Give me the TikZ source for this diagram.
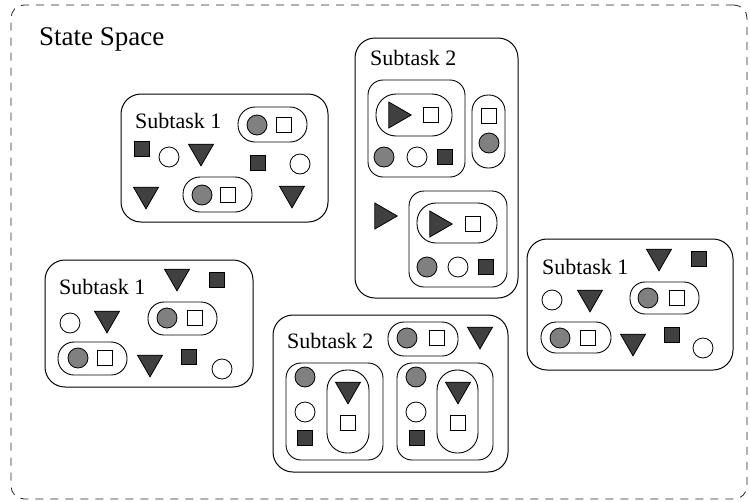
\documentclass[tikz,border=0pt]{standalone}
\usepackage{fontspec}
\setmainfont{Liberation Serif}
\usetikzlibrary{shapes.geometric}
\definecolor{darkfill}{gray}{0.25}
\definecolor{midfill}{gray}{0.5}
\tikzset{
	shp/.style={draw, line width=0.8pt, inner sep=0pt, outer sep=0pt},
	gcirc/.style={shp, circle, fill=midfill, minimum size=20pt},
	wcirc/.style={shp, circle, fill=white, minimum size=20pt},
	dsq/.style={shp, rectangle, fill=darkfill, minimum size=15pt},
	wsq/.style={shp, rectangle, fill=white, minimum size=15pt},
	dtri/.style={shp, regular polygon, regular polygon sides=3, shape border rotate=180,
		fill=darkfill, minimum size=28.9pt, yshift=3.6pt},
	rtri/.style={shp, regular polygon, regular polygon sides=3, shape border rotate=-90,
		fill=darkfill, minimum size=30pt, xshift=-3.75pt},
	pill/.style={draw, line width=0.9pt, rounded corners=#1, inner sep=0pt},
	subbox/.style={draw, line width=1pt, rounded corners=20pt, inner sep=0pt},
	innerbox/.style={draw, line width=0.9pt, rounded corners=15pt, inner sep=0pt},
	tasklabel/.style={anchor=base west, inner sep=0pt, font=\fontsize{22}{26}\selectfont}
}

\begin{document}
\begin{tikzpicture}[x=1pt,y=-1pt]
		\useasboundingbox (0,0) rectangle (750,501);
		% state space
		\node[draw, dashed, dash pattern=on 8pt off 7pt, line width=0.8pt, black!85,
			rounded corners=13pt, minimum width=736pt, minimum height=494pt] (space) at (379,252) {};
		\node[anchor=base west, inner sep=0pt, font=\fontsize{27}{32}\selectfont] (spacelbl) at (39,45) {State Space};
		%
		% subtask 1, top left
		\node[subbox, minimum width=207pt, minimum height=128pt] (tA) at (224.5,158) {};
		\node[tasklabel] (tAlbl) at (135,128) {Subtask 1};
		\node[pill=17pt, minimum width=69pt, minimum height=35pt] (pA1) at (272.5,124.5) {};
		\node[gcirc] (a1) at (257,125) {};
		\node[wsq] (a2) at (284,125) {};
		\node[dsq] (a3) at (142,149) {};
		\node[wcirc] (a4) at (169,157) {};
		\node[dtri] (a5) at (201,155) {};
		\node[dsq] (a6) at (258,163) {};
		\node[wcirc] (a7) at (300,164) {};
		\node[dtri] (a8) at (146,198) {};
		\node[pill=17pt, minimum width=69pt, minimum height=35pt] (pA2) at (217.5,194.5) {};
		\node[gcirc] (a9) at (202,195) {};
		\node[wsq] (a10) at (228,195) {};
		\node[dtri] (a11) at (292,197) {};
		%
		% subtask 2, tall
		\node[subbox, minimum width=163pt, minimum height=260pt] (tB) at (436.5,168) {};
		\node[tasklabel] (tBlbl) at (370,65) {Subtask 2};
		\node[innerbox, minimum width=97pt, minimum height=97pt] (iB1) at (416.5,128.5) {};
		\node[pill=20pt, minimum width=76pt, minimum height=42pt] (pB1) at (414,115) {};
		\node[rtri] (b1) at (400,115) {};
		\node[wsq] (b2) at (431,115) {};
		\node[gcirc] (b3) at (384,157) {};
		\node[wcirc] (b4) at (417,157) {};
		\node[dsq] (b5) at (445,157) {};
		\node[pill=16pt, minimum width=33pt, minimum height=73pt] (pB2) at (488.5,131.5) {};
		\node[wsq] (b6) at (489,116) {};
		\node[gcirc] (b7) at (489,143) {};
		\node[rtri] (b8) at (386,216) {};
		\node[innerbox, minimum width=98pt, minimum height=96pt] (iB3) at (458,239) {};
		\node[pill=19pt, minimum width=80pt, minimum height=40pt] (pB3) at (457,223) {};
		\node[rtri] (b9) at (441,224) {};
		\node[wsq] (b10) at (473,224) {};
		\node[gcirc] (b11) at (427,267) {};
		\node[wcirc] (b12) at (458,267) {};
		\node[dsq] (b13) at (486,267) {};
		%
		% subtask 1, bottom left
		\node[subbox, minimum width=208pt, minimum height=127pt] (tC) at (149,323.5) {};
		\node[tasklabel] (tClbl) at (59,294) {Subtask 1};
		\node[dtri] (c1) at (177,280) {};
		\node[dsq] (c2) at (217,280) {};
		\node[wcirc] (c3) at (70,323) {};
		\node[dtri] (c4) at (107,322) {};
		\node[pill=16pt, minimum width=69pt, minimum height=33pt] (pC1) at (182.5,318.5) {};
		\node[gcirc] (c5) at (167,318) {};
		\node[wsq] (c6) at (195,318) {};
		\node[pill=16pt, minimum width=69pt, minimum height=33pt] (pC2) at (92.5,358.5) {};
		\node[gcirc] (c7) at (78,358) {};
		\node[wsq] (c8) at (105,358) {};
		\node[dtri] (c9) at (150,366) {};
		\node[dsq] (c10) at (189,357) {};
		\node[wcirc] (c11) at (222,369) {};
		%
		% subtask 2, bottom
		\node[subbox, minimum width=235pt, minimum height=157pt] (tD) at (390.5,393.5) {};
		\node[tasklabel] (tDlbl) at (287,348) {Subtask 2};
		\node[pill=16pt, minimum width=70pt, minimum height=34pt] (pD1) at (423,339) {};
		\node[gcirc] (d1) at (407,338) {};
		\node[wsq] (d2) at (437,338) {};
		\node[dtri] (d3) at (480,338) {};
		\node[innerbox, minimum width=97pt, minimum height=97pt] (iD2) at (334.5,411.5) {};
		\node[gcirc] (d4) at (305,377) {};
		\node[wcirc] (d5) at (305,412) {};
		\node[dsq] (d6) at (305,438) {};
		\node[pill=20pt, minimum width=42pt, minimum height=83pt] (pD2) at (348,411.5) {};
		\node[dtri] (d7) at (348,393) {};
		\node[wsq] (d8) at (348,423) {};
		\node[innerbox, minimum width=96pt, minimum height=97pt] (iD3) at (445,411.5) {};
		\node[gcirc] (d9) at (416,377) {};
		\node[wcirc] (d10) at (416,412) {};
		\node[dsq] (d11) at (417,438) {};
		\node[pill=20pt, minimum width=41pt, minimum height=83pt] (pD3) at (457.5,411.5) {};
		\node[dtri] (d12) at (458,393) {};
		\node[wsq] (d13) at (458,423) {};
		%
		% subtask 1, right
		\node[subbox, minimum width=206pt, minimum height=131pt] (tE) at (630,304.5) {};
		\node[tasklabel] (tElbl) at (542,274) {Subtask 1};
		\node[dtri] (e1) at (659,260) {};
		\node[dsq] (e2) at (699,259) {};
		\node[wcirc] (e3) at (552,300) {};
		\node[dtri] (e4) at (590,301) {};
		\node[pill=15pt, minimum width=69pt, minimum height=32pt] (pE1) at (664.5,298) {};
		\node[gcirc] (e5) at (648,298) {};
		\node[wsq] (e6) at (677,298) {};
		\node[pill=15pt, minimum width=70pt, minimum height=31pt] (pE2) at (576,337.5) {};
		\node[gcirc] (e7) at (560,338) {};
		\node[wsq] (e8) at (588,338) {};
		\node[dtri] (e9) at (633,345) {};
		\node[dsq] (e10) at (672,335) {};
		\node[wcirc] (e11) at (703,348) {};
	\end{tikzpicture}
\end{document}
